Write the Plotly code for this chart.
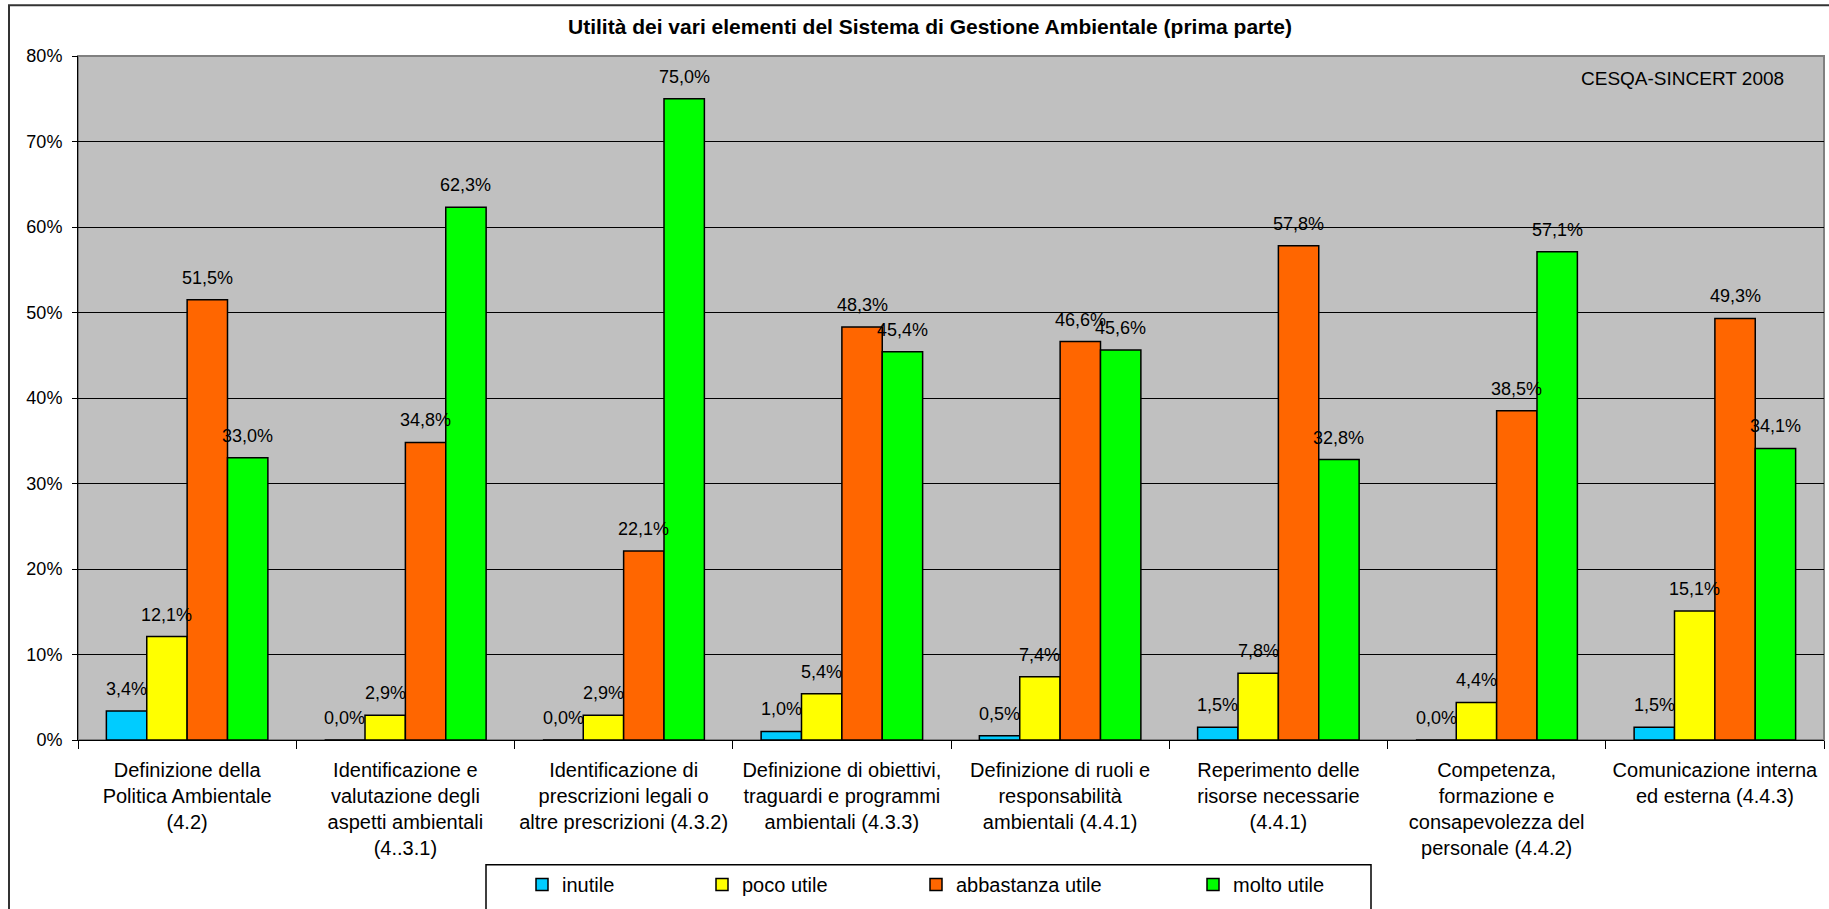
import plotly.graph_objects as go

categories = [
    "Definizione della<br>Politica Ambientale<br>(4.2)",
    "Identificazione e<br>valutazione degli<br>aspetti ambientali<br>(4..3.1)",
    "Identificazione di<br>prescrizioni legali o<br>altre prescrizioni (4.3.2)",
    "Definizione di obiettivi,<br>traguardi e programmi<br>ambientali (4.3.3)",
    "Definizione di ruoli e<br>responsabilità<br>ambientali (4.4.1)",
    "Reperimento delle<br>risorse necessarie<br>(4.4.1)",
    "Competenza,<br>formazione e<br>consapevolezza del<br>personale (4.4.2)",
    "Comunicazione interna<br>ed esterna (4.4.3)",
]
series_names = ["inutile", "poco utile", "abbastanza utile", "molto utile"]
inutile = [3.4, 0.0, 0.0, 1.0, 0.5, 1.5, 0.0, 1.5]
poco_utile = [12.1, 2.9, 2.9, 5.4, 7.4, 7.8, 4.4, 15.1]
abbastanza_utile = [51.5, 34.8, 22.1, 48.3, 46.6, 57.8, 38.5, 49.3]
molto_utile = [33.0, 62.3, 75.0, 45.4, 45.6, 32.8, 57.1, 34.1]
series_values = [inutile, poco_utile, abbastanza_utile, molto_utile]
colors = ["#00CCFF", "#FFFF00", "#FF6600", "#00FF00"]
y_ticks = [0, 10, 20, 30, 40, 50, 60, 70, 80]
y_tick_labels = ["0%", "10%", "20%", "30%", "40%", "50%", "60%", "70%", "80%"]

W, H = 1829, 909
L, R, T, B = 78, 1824, 56, 742
pw, ph = R - L, B - T


def px_x(px):
    return (px - L) / pw


def px_y(py):
    return (B - py) / ph


FONT = "Liberation Sans, Arial, sans-serif"
bargap = 0.26
n = len(series_values)
bw = (1 - bargap) / n
xs = list(range(len(categories)))

fig = go.Figure()
legend_names = ["legend", "legend2", "legend3", "legend4"]
for k, (name, vals, col) in enumerate(zip(series_names, series_values, colors)):
    fig.add_trace(go.Bar(
        x=xs, y=vals, name=name,
        marker=dict(color=col, line=dict(color="black", width=1.5)),
        legend=legend_names[k],
    ))

annotations = []
for k, vals in enumerate(series_values):
    off = (-(n - 1) / 2 + k) * bw
    for i, v in enumerate(vals):
        annotations.append(dict(
            x=i + off, y=v, xref="x", yref="y",
            text=f"{v:.1f}%".replace(".", ","),
            showarrow=False, yanchor="middle", yshift=22,
            font=dict(family=FONT, size=18, color="black"),
        ))

annotations.append(dict(
    x=px_x(930), y=px_y(26), xref="paper", yref="paper",
    text="<b>Utilità dei vari elementi del Sistema di Gestione Ambientale (prima parte)</b>",
    showarrow=False, xanchor="center", yanchor="middle",
    font=dict(family=FONT, size=21, color="black"),
))
annotations.append(dict(
    x=px_x(1786), y=px_y(79), xref="paper", yref="paper",
    text="CESQA-SINCERT 2008", showarrow=False, xanchor="right", yanchor="middle",
    font=dict(family=FONT, size=19, color="black"),
))

shapes = [
    # outer chart border
    dict(type="rect", xref="paper", yref="paper",
         x0=px_x(9), x1=px_x(1840), y0=px_y(930), y1=px_y(5),
         line=dict(color="#333333", width=2), layer="below"),
    # plot area border
    dict(type="rect", xref="paper", yref="paper", x0=0, x1=1, y0=0, y1=1,
         line=dict(color="#808080", width=2), layer="below"),
    # legend box
    dict(type="rect", xref="paper", yref="paper",
         x0=px_x(486), x1=px_x(1371), y0=px_y(920), y1=px_y(867),
         line=dict(color="black", width=1.5), fillcolor="white", layer="below"),
]

legend_text_x = [562, 742, 956, 1233]
legend_common = dict(
    font=dict(family=FONT, size=20, color="black"),
    bgcolor="rgba(0,0,0,0)", borderwidth=0,
    yanchor="middle", xanchor="left", orientation="h",
)
layout_legends = {}
for k, ln in enumerate(legend_names):
    layout_legends[ln] = dict(x=px_x(legend_text_x[k] - 40), y=px_y(887), **legend_common)

fig.update_layout(
    width=W, height=H,
    margin=dict(l=L, r=W - R, t=T, b=H - B, pad=0),
    paper_bgcolor="white", plot_bgcolor="#C0C0C0",
    barmode="group", bargap=bargap, bargroupgap=0,
    annotations=annotations, shapes=shapes,
    showlegend=True,
    **layout_legends,
)
fig.update_xaxes(
    range=[-0.5, len(categories) - 0.5],
    tickmode="array", tickvals=xs, ticktext=categories,
    ticks="", showgrid=False, zeroline=False,
    showline=True, linecolor="black", linewidth=1,
    tickfont=dict(family=FONT, size=20, color="black"),
    ticklabelstandoff=12,
    minor=dict(tickmode="array",
               tickvals=[i - 0.5 for i in range(len(categories) + 1)],
               ticks="outside", ticklen=8, tickcolor="black", tickwidth=1, showgrid=False),
    fixedrange=True,
)
fig.update_yaxes(
    range=[0, 80], tickmode="array", tickvals=y_ticks, ticktext=y_tick_labels,
    showgrid=True, gridcolor="black", gridwidth=1, zeroline=False,
    showline=True, linecolor="black", linewidth=1,
    ticks="outside", ticklen=5, tickcolor="black",
    tickfont=dict(family=FONT, size=18, color="black"),
    ticklabelstandoff=6,
    fixedrange=True,
)

fig.write_html("out.html", config={"displayModeBar": False},
               post_script="document.body.style.margin='0';document.body.style.overflow='hidden';")
